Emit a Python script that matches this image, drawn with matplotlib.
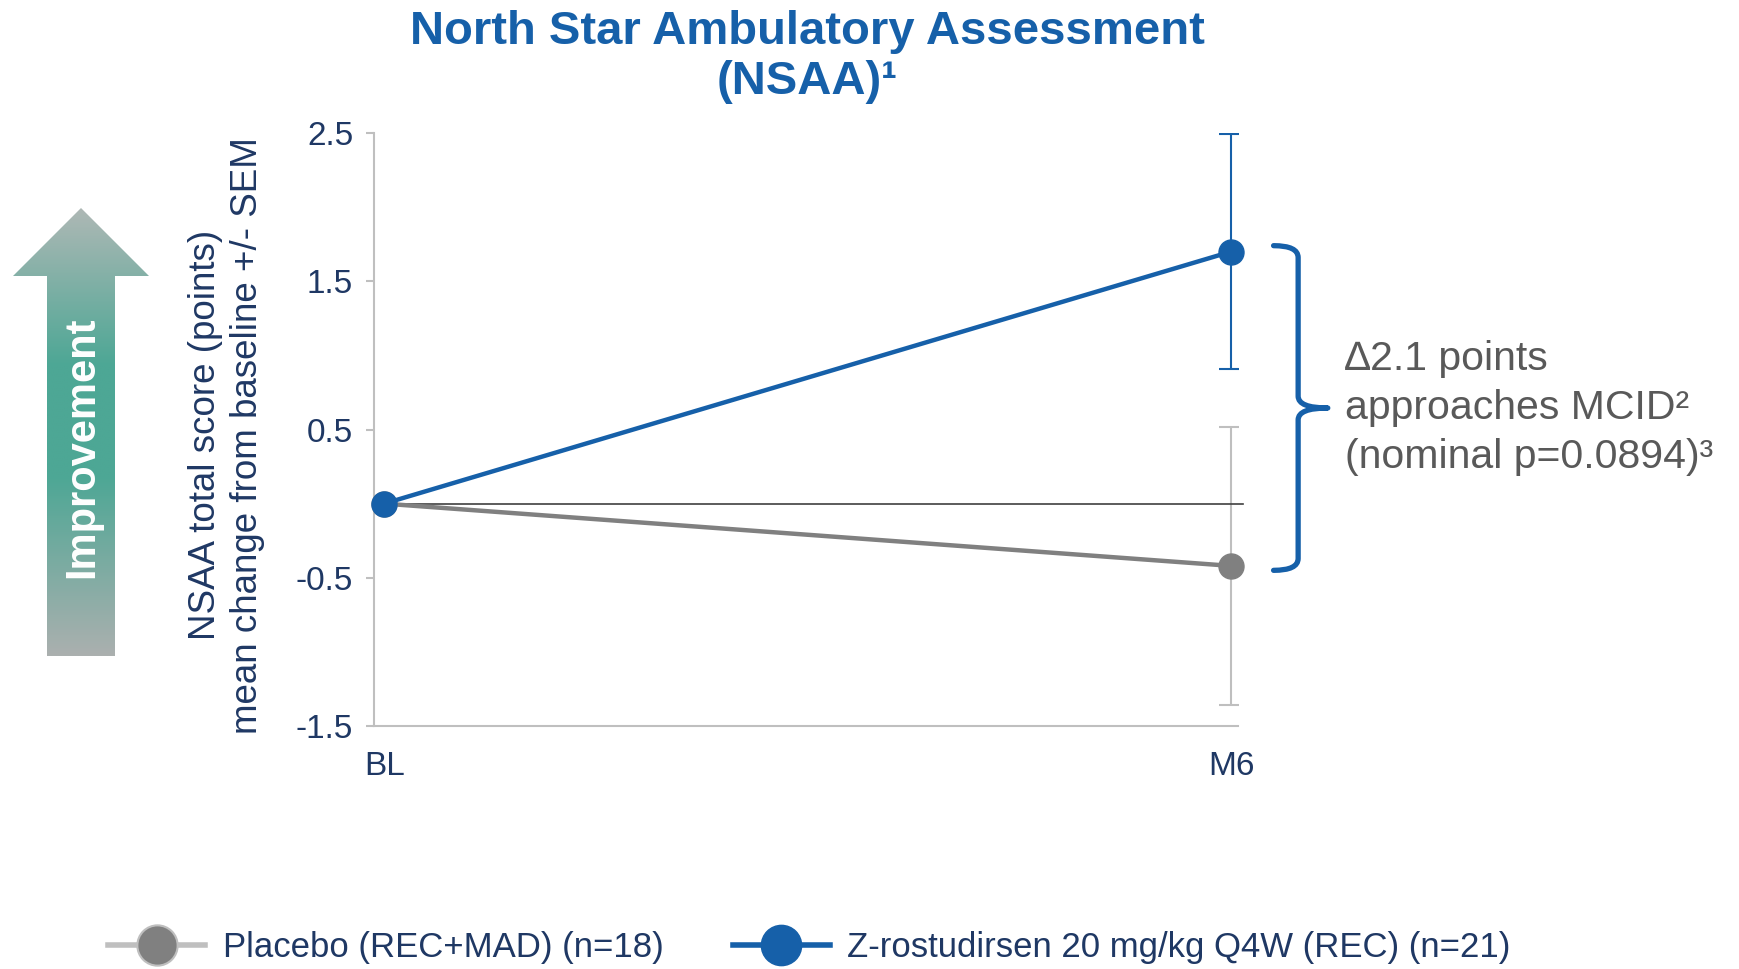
import numpy as np
import matplotlib
matplotlib.use('Agg')
import matplotlib.pyplot as plt
from matplotlib.path import Path
from matplotlib.patches import PathPatch, Polygon
from matplotlib.lines import Line2D
from matplotlib.colors import LinearSegmentedColormap

plt.rcParams['font.family'] = ['Liberation Sans', 'DejaVu Sans']

# Datos
visits = ['BL', 'M6']
placebo_mean = [0.0, -0.42]
placebo_sem = [0.0, 0.94]
zros_mean = [0.0, 1.70]
zros_sem = [0.0, 0.79]
yticks = [-1.5, -0.5, 0.5, 1.5, 2.5]
legend_labels = ['Placebo (REC+MAD) (n=18)',
                 'Z-rostudirsen 20 mg/kg Q4W (REC) (n=21)']

# Colores
BLUE = '#1660A9'
NAVY = '#1F3864'
GRAY = '#808080'
LIGHT = '#BFBFBF'
TXT = '#595959'

W, H = 1739, 969
fig = plt.figure(figsize=(W / 100, H / 100), dpi=100)
ax = fig.add_axes([374 / W, 1 - 726 / H, (1238 - 374) / W, (726 - 133) / H])

x = np.arange(len(visits))

# Barras de error (solo M6)
ax.errorbar(x[1:], placebo_mean[1:], yerr=placebo_sem[1:], fmt='none',
            ecolor=LIGHT, elinewidth=1.5, capsize=9, capthick=1.5, zorder=1)
ax.errorbar(x[1:], zros_mean[1:], yerr=zros_sem[1:], fmt='none',
            ecolor=BLUE, elinewidth=1.5, capsize=9, capthick=1.5, zorder=1)

ax.axhline(0, xmin=0, xmax=1.006, color='#404040', lw=1.2, clip_on=False, zorder=1.5)

ax.plot(x, placebo_mean, color=GRAY, lw=3.2, marker='o', ms=18, zorder=3, clip_on=False)
ax.plot(x, zros_mean, color=BLUE, lw=3.2, marker='o', ms=18, zorder=4, clip_on=False)

ax.set_xlim(-0.012, 1.008)
ax.set_ylim(-1.5, 2.5)
ax.set_xticks(x)
ax.set_xticklabels(visits)
ax.set_yticks(yticks)
ax.set_yticklabels([f'{v:.1f}' for v in yticks])

for s in ['top', 'right']:
    ax.spines[s].set_visible(False)
for s in ['left', 'bottom']:
    ax.spines[s].set_color(LIGHT)
    ax.spines[s].set_linewidth(1.5)
ax.tick_params(axis='y', length=6, width=1.5, color=LIGHT, labelcolor=NAVY,
               labelsize=24, pad=9)
ax.tick_params(axis='x', length=0, labelcolor=NAVY, labelsize=24, pad=18)

ax.set_ylabel('NSAA total score (points)\nmean change from baseline +/- SEM',
              fontsize=26.5, color=NAVY, va='center', linespacing=1.25)
ax.yaxis.set_label_coords(-0.171, 0.49)

# Llave de la diferencia
top = zros_mean[1] + 0.04
bot = placebo_mean[1] - 0.03
mid = (top + bot) / 2
x0, xv, xt = 1.050, 1.079, 1.114
verts = [(x0, top), (xv, top), (xv, top - 0.08),
         (xv, mid + 0.08), (xv, mid), (xt, mid),
         (xv, mid), (xv, mid - 0.08),
         (xv, bot + 0.08), (xv, bot), (x0, bot)]
codes = [Path.MOVETO, Path.CURVE3, Path.CURVE3,
         Path.LINETO, Path.CURVE3, Path.CURVE3,
         Path.CURVE3, Path.CURVE3,
         Path.LINETO, Path.CURVE3, Path.CURVE3]
ax.add_patch(PathPatch(Path(verts, codes), fc='none', ec=BLUE, lw=3.8,
                       clip_on=False, capstyle='round', joinstyle='round'))

delta = zros_mean[1] - placebo_mean[1]
ax.text(1.134, mid, f'\u2206{delta:.1f} points\napproaches MCID\u00b2\n(nominal p=0.0894)\u00b3',
        fontsize=29.5, color=TXT, ha='left', va='center', linespacing=1.36)

# Título
fig.text(807 / W, 1 - 57 / H, 'North Star Ambulatory Assessment\n(NSAA)\u00b9',
         ha='center', va='center', fontsize=34, fontweight='bold', color=BLUE,
         linespacing=1.2)

# Leyenda
h1 = Line2D([], [], color=LIGHT, lw=4, marker='o', ms=29, mfc=GRAY, mec=LIGHT, mew=1.5)
h2 = Line2D([], [], color=BLUE, lw=4, marker='o', ms=29, mfc=BLUE, mec=BLUE)
fig.legend([h1, h2], legend_labels, loc='center left',
           bbox_to_anchor=(108 / W, 1 - 948 / H), ncol=2, frameon=False,
           fontsize=25, handlelength=2.8, handletextpad=0.5, columnspacing=2.0,
           borderpad=0, borderaxespad=0, labelcolor=NAVY)

# Flecha "Improvement" con degradado
ax_bg = fig.add_axes([0, 0, 1, 1], zorder=-1)
ax_bg.set_xlim(0, W)
ax_bg.set_ylim(H, 0)
ax_bg.axis('off')
arrow_pts = [(81, 208), (149, 276), (115, 276), (115, 656),
             (47, 656), (47, 276), (13, 276)]
poly = Polygon(arrow_pts, closed=True, fc='none', ec='none')
ax_bg.add_patch(poly)
cmap = LinearSegmentedColormap.from_list(
    'arr', [(0, '#AEB8B5'), (0.35, '#4DA795'), (0.6, '#4DA795'), (1, '#ABB0AF')])
grad = np.linspace(0, 1, 256).reshape(-1, 1)
im = ax_bg.imshow(grad, cmap=cmap, extent=[13, 149, 656, 208], aspect='auto',
                  origin='upper', interpolation='bilinear')
im.set_clip_path(poly)
ax_bg.text(82, 447, 'Improvement', rotation=90, color='white', fontsize=30,
           fontweight='bold', ha='center', va='center')

fig.savefig('out.png', dpi=100)
